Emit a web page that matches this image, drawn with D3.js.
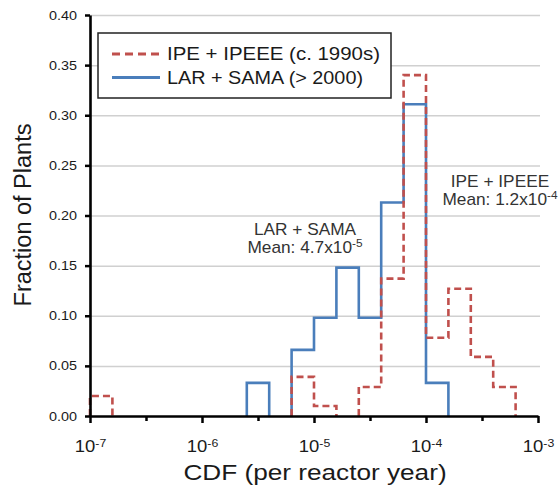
<!DOCTYPE html>
<html>
<head>
<meta charset="utf-8">
<script src="https://cdn.jsdelivr.net/npm/d3@7"></script>
<style>
  body { margin: 0; background: #fff; }
  svg { display: block; font-family: "Liberation Sans", Arial, sans-serif; }
</style>
</head>
<body>
<svg id="chart" width="560" height="487"></svg>
<script>
// ---- data ----
const binEdges = [1e-7, 1.585e-7, 2.512e-7, 3.981e-7, 6.310e-7,
                  1e-6, 1.585e-6, 2.512e-6, 3.981e-6, 6.310e-6,
                  1e-5, 1.585e-5, 2.512e-5, 3.981e-5, 6.310e-5,
                  1e-4, 1.585e-4, 2.512e-4, 3.981e-4, 6.310e-4, 1e-3];
const ipeValues = [0.020, 0, 0, 0, 0, 0, 0, 0, 0, 0.039,
                   0.010, 0, 0.029, 0.137, 0.340, 0.078, 0.127, 0.059, 0.029, 0];
const larValues = [0, 0, 0, 0, 0, 0, 0, 0.033, 0, 0.066,
                   0.098, 0.148, 0.098, 0.213, 0.311, 0.033, 0, 0, 0, 0];
const seriesNames = ["IPE + IPEEE (c. 1990s)", "LAR + SAMA (> 2000)"];
const xMajorTicks = [1e-7, 1e-6, 1e-5, 1e-4, 1e-3];
const xTickExponents = ["-7", "-6", "-5", "-4", "-3"];
const xMinorTicks = [3.162e-7, 3.162e-6, 3.162e-5, 3.162e-4];
const yTicks = [0, 0.05, 0.10, 0.15, 0.20, 0.25, 0.30, 0.35, 0.40];
const annotations = [
  { line1: "LAR + SAMA", mant: "Mean: 4.7x10", exp: "-5", cx: 305, y: 235 },
  { line1: "IPE + IPEEE", mant: "Mean: 1.2x10", exp: "-4", cx: 500, y: 187 }
];

const RED = "#c0504d", BLUE = "#4a7ebb", TXT = "#1a1a1a";

const svg = d3.select("#chart");
const x = d3.scaleLog().domain([1e-7, 1e-3]).range([90, 538]);
const y = d3.scaleLinear().domain([0, 0.4]).range([416, 15]);

// gridlines
const grid = svg.append("g").attr("transform", "translate(90,0)")
  .call(d3.axisLeft(y).tickValues(yTicks.filter(v => v > 0)).tickSize(-450).tickFormat(""));
grid.select(".domain").remove();
grid.selectAll("line").attr("stroke", "#d0d0d0").attr("stroke-width", 1.5);

// step path builder
function stepPath(vals) {
  let d = "";
  const n = vals.length;
  for (let i = 0; i < n; i++) {
    const v = vals[i];
    const prev = i > 0 ? vals[i - 1] : 0;
    const next = i < n - 1 ? vals[i + 1] : 0;
    if (v <= 0) continue;
    const x0 = x(binEdges[i]), x1 = x(binEdges[i + 1]);
    if (prev <= 0) d += `M${x0},${y(0)}`;
    d += `L${x0},${y(v)}L${x1},${y(v)}`;
    if (next <= 0) d += `L${x1},${y(0)}`;
  }
  return d;
}

svg.append("path").attr("d", stepPath(larValues))
  .attr("fill", "none").attr("stroke", BLUE).attr("stroke-width", 2.6);
svg.append("path").attr("d", stepPath(ipeValues))
  .attr("fill", "none").attr("stroke", RED).attr("stroke-width", 2.6)
  .attr("stroke-dasharray", "7,4");

// x axis minor ticks
const xMinor = svg.append("g").attr("transform", `translate(0,${y(0)})`)
  .call(d3.axisBottom(x).tickValues(xMinorTicks).tickSize(5).tickFormat(""));
xMinor.select(".domain").remove();
xMinor.selectAll("line").attr("stroke", "#000").attr("stroke-width", 2.5);

// x axis major
const xAx = svg.append("g").attr("transform", `translate(0,${y(0)})`)
  .call(d3.axisBottom(x).tickValues(xMajorTicks).tickSize(7).tickSizeOuter(0).tickFormat(""));
xAx.select(".domain").attr("stroke", "#000").attr("stroke-width", 2.6);
xAx.selectAll("line").attr("stroke", "#000").attr("stroke-width", 2.5);
xAx.selectAll(".tick").each(function(d, i) {
  const t = d3.select(this).append("text")
    .attr("y", 36).attr("text-anchor", "middle")
    .attr("fill", TXT).attr("font-size", 16.5)
    .attr("transform", "scale(1.12,1)");
  t.append("tspan").text("10");
  t.append("tspan").attr("dy", -5).attr("font-size", 11).text(xTickExponents[i]);
});

// y axis
const yAx = svg.append("g").attr("transform", "translate(90,0)")
  .call(d3.axisLeft(y).tickValues(yTicks).tickSize(5).tickSizeOuter(0).tickFormat(d3.format(".2f")));
yAx.select(".domain").attr("stroke", "#000").attr("stroke-width", 2.6);
yAx.selectAll("line").attr("stroke", "#000").attr("stroke-width", 2.5);
yAx.selectAll("text")
  .attr("x", -10.8).attr("dy", "0.34em")
  .attr("fill", TXT).attr("font-size", 12).attr("font-family", "Liberation Sans, Arial, sans-serif")
  .attr("transform", "scale(1.2,1)");

// axis titles
svg.append("text")
  .attr("transform", "translate(315,480) scale(1.19,1)")
  .attr("text-anchor", "middle").attr("font-size", 22).attr("fill", TXT)
  .text("CDF (per reactor year)");
svg.append("text")
  .attr("transform", "translate(31,215) rotate(-90)")
  .attr("text-anchor", "middle").attr("font-size", 23.5).attr("fill", TXT)
  .text("Fraction of Plants");

// legend
const lg = svg.append("g");
lg.append("rect").attr("x", 98).attr("y", 33).attr("width", 293).attr("height", 65)
  .attr("fill", "#fff").attr("stroke", "#222").attr("stroke-width", 1.5);
const legendItems = [
  { name: seriesNames[0], color: RED, dash: "8,5", ly: 54, ty: 60, w: 213 },
  { name: seriesNames[1], color: BLUE, dash: null, ly: 77.5, ty: 83.5, w: 196 }
];
legendItems.forEach(it => {
  lg.append("line").attr("x1", 112).attr("x2", 160).attr("y1", it.ly).attr("y2", it.ly)
    .attr("stroke", it.color).attr("stroke-width", 3)
    .attr("stroke-dasharray", it.dash);
  lg.append("text").attr("x", 167).attr("y", it.ty)
    .attr("font-size", 18.6).attr("fill", TXT)
    .attr("textLength", it.w).attr("lengthAdjust", "spacingAndGlyphs")
    .text(it.name);
});

// annotations
annotations.forEach(a => {
  svg.append("text")
    .attr("transform", `translate(${a.cx},${a.y}) scale(1.08,1)`)
    .attr("text-anchor", "middle").attr("font-size", 16).attr("fill", "#333")
    .text(a.line1);
  const t = svg.append("text")
    .attr("transform", `translate(${a.cx},${a.y + 18}) scale(1.08,1)`)
    .attr("text-anchor", "middle").attr("font-size", 16).attr("fill", "#333");
  t.append("tspan").text(a.mant);
  t.append("tspan").attr("dy", -6).attr("font-size", 11).text(a.exp);
});
</script>
</body>
</html>
